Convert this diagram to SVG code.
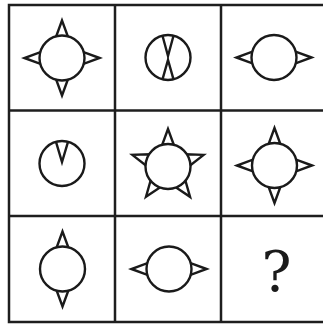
<svg xmlns="http://www.w3.org/2000/svg" width="323" height="327" viewBox="0 0 323 327">
<style>
.grid{fill:none;stroke:#1e1e1e;stroke-width:2.5}
.sh{fill:#fff;stroke:#1a1a1a;stroke-width:2.4;stroke-linejoin:miter;stroke-miterlimit:10}
.in{fill:none;stroke:#1a1a1a;stroke-width:2.4;stroke-linejoin:miter;stroke-miterlimit:10}
.q{font-family:"DejaVu Serif","Liberation Serif",serif;font-size:56px;fill:#1a1a1a;text-anchor:middle}
</style>
<defs>
<polygon id="spike" class="sh" points="0,-37.5 -5.8,-21.7 5.8,-21.7"/>
<circle id="disc" class="sh" r="22.5"/>
</defs>
<rect width="323" height="327" fill="#fff"/>
<g id="connectors">
<rect class="grid" x="9" y="5" width="318" height="317"/>
<line class="grid" x1="115" y1="5" x2="115" y2="322"/>
<line class="grid" x1="221" y1="5" x2="221" y2="322"/>
<line class="grid" x1="9" y1="110.5" x2="327" y2="110.5"/>
<line class="grid" x1="9" y1="216" x2="327" y2="216"/>
</g>
<g id="n1" transform="translate(62,58)">
<use href="#spike"/><use href="#spike" transform="rotate(90)"/><use href="#spike" transform="rotate(180)"/><use href="#spike" transform="rotate(270)"/>
<use href="#disc"/>
</g>
<g id="n2" transform="translate(168,57.5)">
<use href="#disc"/>
<polyline class="in" points="-5.5,-21.8 0,-1.5 5.5,-21.8"/>
<polyline class="in" points="-5.5,21.8 0,2.5 5.5,21.8"/>
</g>
<g id="n3" transform="translate(274,57.5)">
<use href="#spike" transform="rotate(90)"/><use href="#spike" transform="rotate(270)"/>
<use href="#disc"/>
</g>
<g id="n4" transform="translate(62,163.5)">
<use href="#disc"/>
<polyline class="in" points="-6,-21.7 0,-1.5 6,-21.7"/>
</g>
<g id="n5" transform="translate(168,166.5)">
<use href="#spike"/><use href="#spike" transform="rotate(72)"/><use href="#spike" transform="rotate(144)"/><use href="#spike" transform="rotate(216)"/><use href="#spike" transform="rotate(288)"/>
<use href="#disc"/>
</g>
<g id="n6" transform="translate(274.5,165.5)">
<use href="#spike"/><use href="#spike" transform="rotate(90)"/><use href="#spike" transform="rotate(180)"/><use href="#spike" transform="rotate(270)"/>
<use href="#disc"/>
</g>
<g id="n7" transform="translate(62.5,269)">
<use href="#spike"/><use href="#spike" transform="rotate(180)"/>
<use href="#disc"/>
</g>
<g id="n8" transform="translate(169,269)">
<use href="#spike" transform="rotate(90)"/><use href="#spike" transform="rotate(270)"/>
<use href="#disc"/>
</g>
<g id="n9">
<text class="q" x="276.5" y="291">?</text>
</g>
</svg>
